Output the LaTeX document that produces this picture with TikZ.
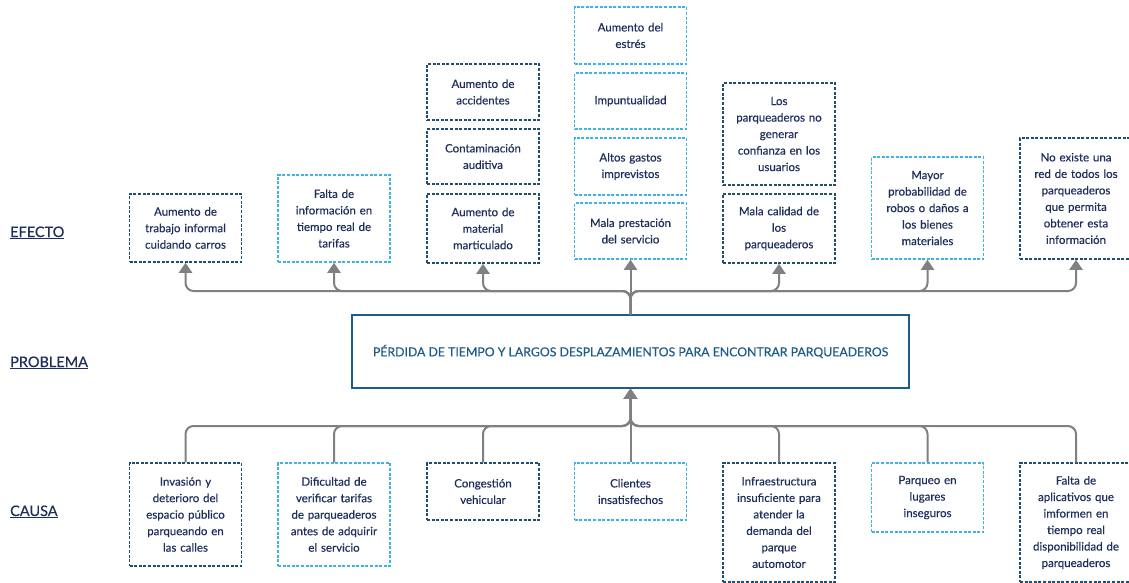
\documentclass[tikz,border=0pt]{standalone}
\usepackage{fontspec}
\setmainfont{Lato}
\newfontfamily\medfont{Lato}[FakeBold=0.45]
\usetikzlibrary{arrows.meta}
\definecolor{dk}{HTML}{1F4E6E}
\definecolor{lt}{HTML}{3DB3E3}
\definecolor{txt}{HTML}{1E2F5C}
\definecolor{probc}{HTML}{1D5C88}
\definecolor{connc}{HTML}{808080}
\begin{document}
\begin{tikzpicture}[x=1pt,y=-1pt,
  bx/.style={dash pattern=on 3pt off 1.6pt, line width=1.5pt, text=txt, align=center,
    inner sep=0pt, font=\medfont\fontsize{11.5}{16.5}\selectfont, text width=106pt, minimum width=112pt},
  dkbox/.style={bx, draw=dk},
  ltbox/.style={bx, draw=lt},
  conn/.style={draw=connc, line width=2pt, rounded corners=8pt},
  arr/.style={conn, -{Triangle[width=13pt,length=10pt]}},
  lbl/.style={font=\medfont\fontsize{14.5}{17}\selectfont, text=txt, anchor=base west, inner sep=0pt}]
\useasboundingbox (0,0) rectangle (1129,583);

% labels
\node[lbl] (lefecto) at (10,237) {\underline{EFECTO}};
\node[lbl] (lproblema) at (10,367) {\underline{PROBLEMA}};
\node[lbl] (lcausa) at (10,516) {\underline{CAUSA}};

% problem
\node[draw=probc, line width=1.5pt, minimum width=557pt, minimum height=73pt, inner sep=0pt,
  text=probc, font=\medfont\fontsize{12.3}{14}\selectfont] (prob) at (630.5,351.5)
  {PÉRDIDA DE TIEMPO Y LARGOS DESPLAZAMIENTOS PARA ENCONTRAR PARQUEADEROS};

% effects
\node[dkbox, minimum height=68pt] (e1) at (185.5,228) {Aumento de\\trabajo informal\\cuidando carros};
\node[ltbox, minimum height=87pt] (e2) at (334,218.5) {Falta de\\información en\\tiempo real de\\tarifas};
\node[dkbox, minimum height=56pt] (e3a) at (483,92) {Aumento de\\accidentes};
\node[dkbox, minimum height=55pt] (e3b) at (483,156.5) {Contaminación\\auditiva};
\node[dkbox, minimum height=69pt] (e3c) at (483,228.5) {Aumento de\\material\\marticulado};
\node[ltbox, minimum height=57pt] (e4a) at (630.5,35.5) {Aumento del\\estrés};
\node[ltbox, minimum height=56pt] (e4b) at (630.5,101) {Impuntualidad};
\node[ltbox, minimum height=57pt] (e4c) at (630.5,166.5) {Altos gastos\\imprevistos};
\node[ltbox, minimum height=56pt] (e4d) at (630.5,231) {Mala prestación\\del servicio};
\node[dkbox, minimum height=102pt] (e5a) at (779,134) {Los\\parqueaderos no\\generar\\confianza en los\\usuarios};
\node[dkbox, minimum height=69pt] (e5b) at (779,228.5) {Mala calidad de\\los\\parqueaderos};
\node[ltbox, minimum height=102pt] (e6) at (927.5,208) {Mayor\\probabilidad de\\robos o daños a\\los bienes\\materiales};
\node[dkbox, minimum height=121pt] (e7) at (1076,198.5) {No existe una\\red de todos los\\parqueaderos\\que permita\\obtener esta\\información};

% causes
\node[dkbox, minimum height=103pt] (c1) at (185.5,514.5) {Invasión y\\deterioro del\\espacio público\\parqueando en\\las calles};
\node[ltbox, minimum height=103pt] (c2) at (334,514.5) {Dificultad de\\verificar tarifas\\de parqueaderos\\antes de adquirir\\el servicio};
\node[dkbox, minimum height=57pt] (c3) at (483,491.5) {Congestión\\vehicular};
\node[ltbox, minimum height=57pt] (c4) at (630.5,491.5) {Clientes\\insatisfechos};
\node[dkbox, minimum height=119pt] (c5) at (779,522.5) {Infraestructura\\insuficiente para\\atender la\\demanda del\\parque\\automotor};
\node[ltbox, minimum height=69pt] (c6) at (927.5,497.5) {Parqueo en\\lugares\\inseguros};
\node[dkbox, minimum height=119pt] (c7) at (1076,522.5) {Falta de\\aplicativos que\\imformen en\\tiempo real\\disponibilidad de\\parqueaderos};

% connectors
\coordinate (bt) at (630.5,291);
\coordinate (bb) at (630.5,426);
\foreach \e in {e1,e2,e3c,e5b,e6,e7}
  \draw[arr] (prob.north) -- (bt) -| (\e.south);
\draw[arr] (prob.north) -- (e4d.south);
\foreach \c in {c1,c2,c3,c5,c6,c7}
  \draw[arr] (\c.north) |- (bb) -- (prob.south);
\draw[arr] (c4.north) -- (prob.south);
\end{tikzpicture}
\end{document}
